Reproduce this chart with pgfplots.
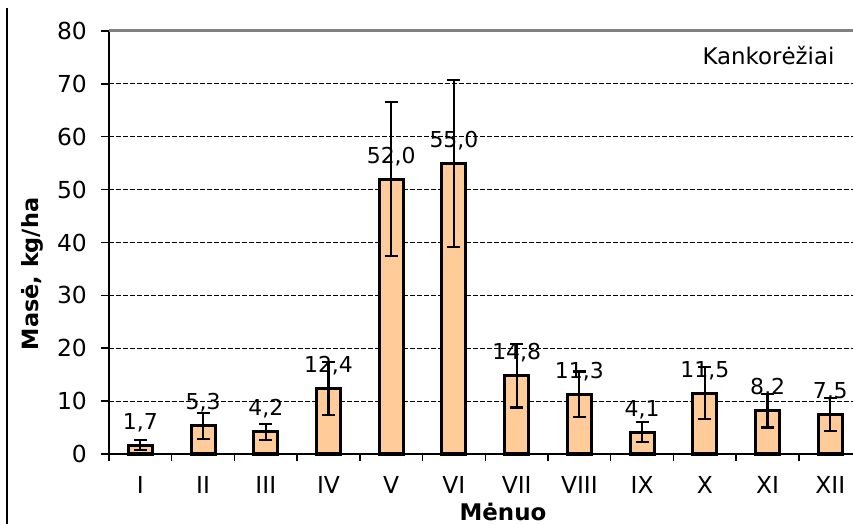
\documentclass[border=0pt]{standalone}
\usepackage{pgfplots}
\pgfplotsset{compat=1.18}
\usepackage{fontspec}
\setmainfont{DejaVu Sans}
\definecolor{barfill}{HTML}{FFCC99}
\definecolor{topgray}{HTML}{808080}
\pgfplotstableread{
x y e
0 1.7 1.0
1 5.3 2.4
2 4.2 1.5
3 12.4 5.0
4 52.0 14.5
5 55.0 15.8
6 14.8 6.0
7 11.3 4.3
8 4.1 1.9
9 11.5 4.9
10 8.2 3.2
11 7.5 3.1
}\datatable
\begin{document}
\begin{tikzpicture}
\useasboundingbox (0,0) rectangle (853bp,524bp);
\draw[line width=1.5bp] (7bp,0) -- (7bp,516bp);
\begin{axis}[
  at={(109bp,70bp)}, anchor=south west,
  scale only axis, width=752.6bp, height=423bp,
  xmin=-0.5, xmax=11.5, ymin=0, ymax=80,
  clip=false,
  axis x line*=bottom, axis y line*=left,
  axis line style={line width=2.2bp, black, -},
  tick align=outside,
  xtick={0,...,11},
  xticklabels={I,II,III,IV,V,VI,VII,VIII,IX,X,XI,XII},
  major x tick style={draw=none},
  minor xtick={-0.5,0.5,...,11.5},
  minor x tick style={line width=1.5bp, black},
  minor tick length=7bp,
  major tick length=8bp,
  ytick={0,10,...,80},
  y tick style={line width=1.5bp, black},
  ymajorgrids,
  grid style={black, line width=0.8bp, dash pattern=on 5bp off 2bp},
  tick label style={font=\fontsize{23.5}{28}\selectfont},
  /pgf/number format/assume math mode=true,
  xticklabel style={anchor=north, inner sep=0pt, yshift=-14bp},
  yticklabel style={anchor=east, inner sep=0pt, xshift=-14bp},
]
\addplot[ybar, bar width=24bp, fill=barfill, draw=black, line width=3bp,
  nodes near coords={\pgfmathprintnumber[fixed,fixed zerofill,precision=1,use comma]{\pgfplotspointmeta}},
  point meta=y,
  nodes near coords style={font=\fontsize{22}{26}\selectfont, anchor=base, inner sep=0pt, yshift=16bp, black},
  error bars/.cd, y dir=both, y explicit,
  error bar style={line width=2.2bp, black},
  error mark options={rotate=90, mark size=6.5bp, line width=2.2bp, black}]
  table[x=x, y=y, y error=e]{\datatable};
\draw[topgray, line width=3bp] (axis cs:-0.5,80) -- (axis cs:11.5,80);
\end{axis}
\node[font=\fontsize{22.5}{26}\selectfont\bfseries, rotate=90] at (32bp,250bp) {Masė, kg/ha};
\node[font=\fontsize{23}{26}\selectfont\bfseries, anchor=base] at (503bp,4bp) {Mėnuo};
\node[font=\fontsize{23}{27}\selectfont, anchor=east] at (838bp,468bp) {Kankorėžiai};
\end{tikzpicture}
\end{document}
